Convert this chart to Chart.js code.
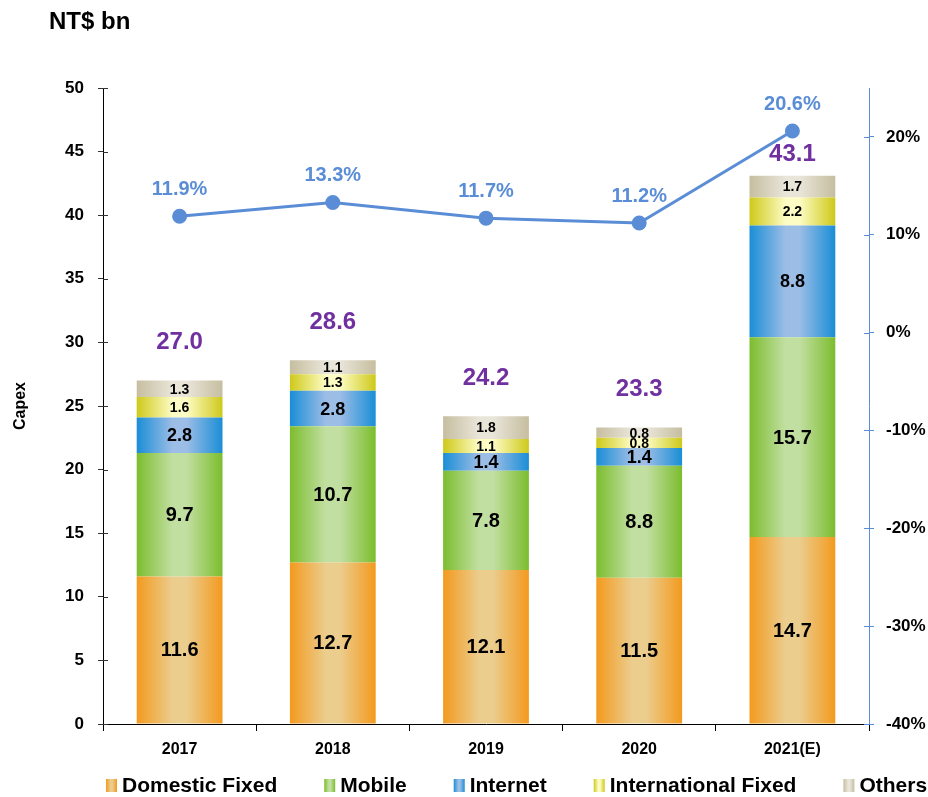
<!DOCTYPE html>
<html>
<head>
<meta charset="utf-8">
<script src="https://cdn.jsdelivr.net/npm/chart.js@4.4.1/dist/chart.umd.min.js"></script>
<style>
html,body{margin:0;padding:0;background:#fff;}
canvas{display:block;}
</style>
</head>
<body>
<canvas id="c" width="928" height="797"></canvas>
<script>
const years = ['2017', '2018', '2019', '2020', '2021(E)'];
const domesticFixed = [11.6, 12.7, 12.1, 11.5, 14.7];
const mobile = [9.7, 10.7, 7.8, 8.8, 15.7];
const internet = [2.8, 2.8, 1.4, 1.4, 8.8];
const internationalFixed = [1.6, 1.3, 1.1, 0.8, 2.2];
const others = [1.3, 1.1, 1.8, 0.8, 1.7];
const totals = [27.0, 28.6, 24.2, 23.3, 43.1];
const growth = [11.9, 13.3, 11.7, 11.2, 20.6];
const seriesNames = ['Domestic Fixed', 'Mobile', 'Internet', 'International Fixed', 'Others'];

const FONT = "'Liberation Sans', Arial, sans-serif";
const BAR_PCT = 0.56;
const palette = [
  {edge: '#F39A1E', light: '#EBCD8E', size: 20},
  {edge: '#7CBD2E', light: '#C2DFA2', size: 20},
  {edge: '#1A8ED6', light: '#9CBDE6', size: 18},
  {edge: '#CEC91A', light: '#FDFCC4', size: 14},
  {edge: '#C6BEA0', light: '#E9E5D9', size: 14}
];
const LINE_COLOR = '#5A8DD6';

function makeGrad(ctx2d, x0, x1, p) {
  const g = ctx2d.createLinearGradient(x0, 0, x1, 0);
  g.addColorStop(0, p.edge);
  g.addColorStop(0.42, p.light);
  g.addColorStop(0.58, p.light);
  g.addColorStop(1, p.edge);
  return g;
}

function barFill(p) {
  return (ctx) => {
    const chart = ctx.chart;
    const xs = chart.scales && chart.scales.x;
    if (!xs || ctx.dataIndex === undefined || !chart.chartArea) return p.edge;
    const cx = xs.getPixelForValue(ctx.dataIndex);
    const w = (xs.width / years.length) * BAR_PCT;
    return makeGrad(chart.ctx, cx - w / 2, cx + w / 2, p);
  };
}

const seriesData = [domesticFixed, mobile, internet, internationalFixed, others];
const barDatasets = seriesData.map((arr, i) => ({
  type: 'bar',
  label: seriesNames[i],
  data: arr,
  yAxisID: 'y',
  backgroundColor: barFill(palette[i]),
  borderWidth: 0,
  barPercentage: BAR_PCT,
  categoryPercentage: 1,
  order: 1
}));

const lineDataset = {
  type: 'line',
  label: 'Growth',
  data: growth,
  yAxisID: 'y2',
  borderColor: LINE_COLOR,
  backgroundColor: LINE_COLOR,
  borderWidth: 3,
  pointRadius: 6,
  pointBackgroundColor: LINE_COLOR,
  pointBorderColor: LINE_COLOR,
  tension: 0,
  order: 0
};

const labelsPlugin = {
  id: 'labels',
  afterDatasetsDraw(chart) {
    const c = chart.ctx;
    c.save();
    c.textAlign = 'center';
    c.textBaseline = 'middle';
    for (let d = 0; d < seriesData.length; d++) {
      const meta = chart.getDatasetMeta(d);
      c.font = 'bold ' + palette[d].size + 'px ' + FONT;
      c.fillStyle = '#000';
      meta.data.forEach((el, i) => {
        const y = (el.y + el.base) / 2;
        c.fillText(seriesData[d][i].toFixed(1), el.x, y + 1);
      });
    }
    const lastMeta = chart.getDatasetMeta(seriesData.length - 1);
    const lineMeta = chart.getDatasetMeta(seriesData.length);
    c.font = 'bold 24px ' + FONT;
    c.fillStyle = '#7030A0';
    lastMeta.data.forEach((el, i) => {
      let y = el.y - 38;
      const py = lineMeta.data[i].y;
      if (Math.abs(y - py) < 30) y = el.y - 21;
      c.fillText(totals[i].toFixed(1), el.x, y);
    });
    c.font = 'bold 20px ' + FONT;
    c.fillStyle = LINE_COLOR;
    lineMeta.data.forEach((pt, i) => {
      c.fillText(growth[i].toFixed(1) + '%', pt.x, pt.y - 27);
    });
    c.restore();
  },
  afterDraw(chart) {
    const c = chart.ctx;
    c.save();
    c.font = 'bold 24px ' + FONT;
    c.fillStyle = '#000';
    c.textAlign = 'left';
    c.textBaseline = 'middle';
    c.fillText('NT$ bn', 49, 22);
    const ys = chart.scales.y, y2 = chart.scales.y2;
    c.lineWidth = 1;
    c.strokeStyle = '#333';
    ys.ticks.forEach(t => {
      const p = Math.round(ys.getPixelForValue(t.value)) + 0.5;
      c.beginPath(); c.moveTo(ys.right, p); c.lineTo(ys.right + 5, p); c.stroke();
    });
    c.strokeStyle = LINE_COLOR;
    y2.ticks.forEach(t => {
      const p = Math.round(y2.getPixelForValue(t.value)) + 0.5;
      c.beginPath(); c.moveTo(y2.left - 5, p); c.lineTo(y2.left, p); c.stroke();
    });
    c.font = 'bold 21px ' + FONT;
    c.textBaseline = 'middle';
    let x = 106;
    const ly = 786;
    seriesNames.forEach((name, i) => {
      c.fillStyle = makeGrad(c, x, x + 11, palette[i]);
      c.fillRect(x, ly - 7, 11, 13);
      c.fillStyle = '#000';
      c.fillText(name, x + 16, ly);
      x += 16 + c.measureText(name).width + 47;
    });
    c.restore();
  }
};

new Chart(document.getElementById('c'), {
  data: {
    labels: years,
    datasets: [...barDatasets, lineDataset]
  },
  options: {
    responsive: false,
    animation: false,
    layout: {padding: {left: 11, right: 0, top: 88, bottom: 0}},
    plugins: {legend: {display: false}, tooltip: {enabled: false}},
    scales: {
      x: {
        stacked: true,
        offset: true,
        border: {color: '#000', width: 1},
        grid: {offset: true, drawOnChartArea: false, drawTicks: true, tickLength: 7, color: '#000'},
        ticks: {color: '#000', font: {family: FONT, size: 16, weight: 'bold'}, padding: 9, maxRotation: 0},
        afterFit(s) { s.height = 73; }
      },
      y: {
        type: 'linear',
        position: 'left',
        stacked: true,
        min: 0,
        max: 50,
        ticks: {stepSize: 5, color: '#000', font: {family: FONT, size: 17, weight: 'bold'}, padding: 14},
        border: {color: '#000', width: 1},
        grid: {drawOnChartArea: false, drawTicks: true, tickLength: 5, color: '#333'},
        title: {display: true, text: 'Capex', color: '#000', font: {family: FONT, size: 16, weight: 'bold'}, padding: 0},
        afterFit(s) { s.width = 92; }
      },
      y2: {
        type: 'linear',
        position: 'right',
        min: -40,
        max: 25,
        ticks: {stepSize: 10, color: '#000', font: {family: FONT, size: 17, weight: 'bold'}, padding: 12,
          callback: v => v + '%'},
        afterBuildTicks(s) { s.ticks = s.ticks.filter(t => t.value <= 20); },
        border: {color: LINE_COLOR, width: 1},
        grid: {drawOnChartArea: false, drawTicks: true, tickLength: 5, color: LINE_COLOR},
        afterFit(s) { s.width = 59; }
      }
    }
  },
  plugins: [labelsPlugin]
});
</script>
</body>
</html>
